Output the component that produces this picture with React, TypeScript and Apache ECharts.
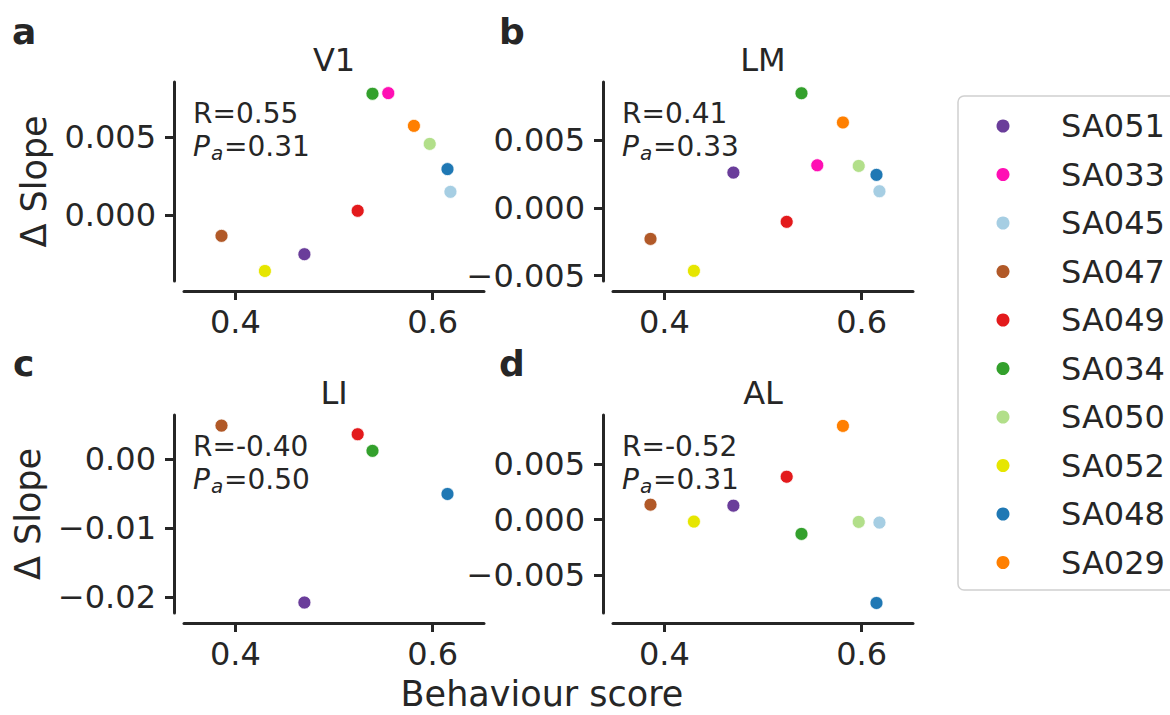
import React, { useEffect, useRef } from 'react';
import * as echarts from 'echarts';

// Mice, in legend order, with their colours and behaviour scores
const mice = ['SA051', 'SA033', 'SA045', 'SA047', 'SA049', 'SA034', 'SA050', 'SA052', 'SA048', 'SA029'];
const mouseColors = ['#6a3d9a', '#ff0fb4', '#a6cee3', '#b15928', '#e31a1c', '#33a02c', '#b2df8a', '#e6e600', '#1f78b4', '#ff7f00'];
const behaviourScore = [0.470, 0.555, 0.618, 0.386, 0.524, 0.539, 0.597, 0.430, 0.615, 0.581];

// Change in slope per area (null where a mouse has no recording in that area)
const slopeV1 = [-0.00249, 0.00779, 0.00149, -0.00132, 0.00028, 0.00775, 0.00455, -0.00356, 0.00294, 0.0057];
const slopeLM = [0.00261, 0.00315, 0.00123, -0.00229, -0.00103, 0.00847, 0.0031, -0.00465, 0.00244, 0.00631];
const slopeLI = [-0.02078, null, null, 0.00486, 0.00361, 0.0012, null, null, -0.00505, null];
const slopeAL = [0.00125, null, -0.00027, 0.00134, 0.00385, -0.00129, -0.00021, -0.00018, -0.0075, 0.00842];

const areas = ['V1', 'LM', 'LI', 'AL'];
const panelLetters = ['a', 'b', 'c', 'd'];
const rValues = ['0.55', '0.41', '-0.40', '-0.52'];
const pValues = ['0.31', '0.33', '0.50', '0.31'];

// Axis extents and ticks
const xRange = [0.348, 0.652];
const xTicks = [0.4, 0.6];
const yRanges = [
  [-0.0042, 0.0085],
  [-0.0054, 0.0093],
  [-0.0223, 0.0064],
  [-0.0084, 0.0094],
];
const yTicks = [
  [0, 0.005],
  [-0.005, 0, 0.005],
  [-0.02, -0.01, 0],
  [-0.005, 0, 0.005],
];
const yDecimals = [3, 3, 2, 3];

const FONT = '"DejaVu Sans", sans-serif';
const INK = '#262626';

const gridBoxes = [
  { left: 184, top: 82, width: 300, height: 199 },
  { left: 613, top: 82, width: 300, height: 199 },
  { left: 184, top: 415, width: 300, height: 198 },
  { left: 613, top: 415, width: 300, height: 198 },
];
const letterPos = [
  { x: 12, y: 31 },
  { x: 499, y: 31 },
  { x: 13, y: 363 },
  { x: 499, y: 363 },
];

// Legend box geometry
const legendBox = { x: 958, y: 96, width: 240, height: 494 };
const legendFirstRow = 126;
const legendRowStep = 48.5;
const legendMarkerX = 1003;
const legendTextX = 1061;

const slopesByArea = [slopeV1, slopeLM, slopeLI, slopeAL];

function fmtTick(v: number, d: number) {
  if (Math.abs(v) < 1e-12) return (0).toFixed(d);
  return (v < 0 ? '\u2212' : '') + Math.abs(v).toFixed(d);
}

function buildOption() {
  const axisLine = { show: true, onZero: false, lineStyle: { color: INK, width: 3 } };
  const axisTickBase = { show: true, length: 9, lineStyle: { color: INK, width: 3 } };

  const grid = gridBoxes.map((g) => ({ ...g }));

  const xAxis = gridBoxes.map((_, i) => ({
    type: 'value',
    gridIndex: i,
    min: xRange[0],
    max: xRange[1],
    offset: 10,
    axisLine,
    axisTick: { ...axisTickBase, customValues: xTicks },
    axisLabel: {
      customValues: xTicks,
      margin: 15,
      fontFamily: FONT,
      fontSize: 32,
      color: INK,
      formatter: (v: number) => v.toFixed(1),
    },
    splitLine: { show: false },
  }));

  const yAxis = gridBoxes.map((_, i) => ({
    type: 'value',
    gridIndex: i,
    min: yRanges[i][0],
    max: yRanges[i][1],
    offset: 10,
    axisLine,
    axisTick: { ...axisTickBase, customValues: yTicks[i] },
    axisLabel: {
      customValues: yTicks[i],
      margin: 18,
      fontFamily: FONT,
      fontSize: 32,
      color: INK,
      formatter: (v: number) => fmtTick(v, yDecimals[i]),
    },
    splitLine: { show: false },
  }));

  const series: any[] = [];
  slopesByArea.forEach((vals, p) => {
    mice.forEach((m, i) => {
      const v = vals[i];
      if (v === null || v === undefined) return;
      series.push({
        type: 'scatter',
        name: m,
        xAxisIndex: p,
        yAxisIndex: p,
        symbol: 'circle',
        symbolSize: 13,
        itemStyle: { color: mouseColors[i], borderColor: '#ffffff', borderWidth: 0.8, opacity: 1 },
        data: [[behaviourScore[i], v]],
      });
    });
  });

  const graphic: any[] = [];
  gridBoxes.forEach((g, p) => {
    // panel letter
    graphic.push({
      type: 'text',
      x: letterPos[p].x,
      y: letterPos[p].y,
      style: { text: panelLetters[p], font: `bold 36px ${FONT}`, fill: INK, align: 'left', verticalAlign: 'middle' },
    });
    // area title
    graphic.push({
      type: 'text',
      x: g.left + g.width / 2,
      y: g.top - 22,
      style: { text: areas[p], font: `32px ${FONT}`, fill: INK, align: 'center', verticalAlign: 'middle' },
    });
    // correlation annotation
    const rY = g.top + 31;
    const pY = g.top + 64;
    graphic.push({
      type: 'text',
      x: g.left + 9,
      y: rY,
      style: { text: `R=${rValues[p]}`, font: `28px ${FONT}`, fill: INK, align: 'left', verticalAlign: 'middle' },
    });
    graphic.push({
      type: 'text',
      x: g.left + 9,
      y: pY,
      style: { text: 'P', font: `italic 28px ${FONT}`, fill: INK, align: 'left', verticalAlign: 'middle' },
    });
    graphic.push({
      type: 'text',
      x: g.left + 27,
      y: pY + 6.5,
      style: { text: 'a', font: `italic 20px ${FONT}`, fill: INK, align: 'left', verticalAlign: 'middle' },
    });
    graphic.push({
      type: 'text',
      x: g.left + 40,
      y: pY,
      style: { text: `=${pValues[p]}`, font: `28px ${FONT}`, fill: INK, align: 'left', verticalAlign: 'middle' },
    });
  });

  // shared axis titles
  graphic.push({
    type: 'text',
    x: 34,
    y: gridBoxes[0].top + gridBoxes[0].height / 2,
    rotation: Math.PI / 2,
    style: { text: '\u0394 Slope', font: `35px ${FONT}`, fill: INK, align: 'center', verticalAlign: 'middle' },
  });
  graphic.push({
    type: 'text',
    x: 28,
    y: gridBoxes[2].top + gridBoxes[2].height / 2,
    rotation: Math.PI / 2,
    style: { text: '\u0394 Slope', font: `35px ${FONT}`, fill: INK, align: 'center', verticalAlign: 'middle' },
  });
  graphic.push({
    type: 'text',
    x: 542,
    y: 694,
    style: {
      text: 'Behaviour score',
      font: `35px ${FONT}`,
      lineHeight: 30,
      fill: INK,
      align: 'center',
      verticalAlign: 'middle',
    },
  });

  // legend: frame, markers and mouse names
  graphic.push({
    type: 'rect',
    shape: { x: legendBox.x, y: legendBox.y, width: legendBox.width, height: legendBox.height, r: 6 },
    style: { fill: '#ffffff', stroke: '#d0d0d0', lineWidth: 1.5 },
    z: 0,
  });
  mice.forEach((m, i) => {
    const cy = legendFirstRow + i * legendRowStep;
    graphic.push({
      type: 'circle',
      shape: { cx: legendMarkerX, cy, r: 6.5 },
      style: { fill: mouseColors[i] },
      z: 1,
    });
    graphic.push({
      type: 'text',
      x: legendTextX,
      y: cy,
      style: { text: m, font: `32px ${FONT}`, fill: INK, align: 'left', verticalAlign: 'middle' },
      z: 1,
    });
  });

  return {
    animation: false,
    backgroundColor: '#ffffff',
    textStyle: { fontFamily: FONT },
    grid,
    xAxis,
    yAxis,
    series,
    graphic,
  };
}

export default function App() {
  const ref = useRef<HTMLDivElement>(null);
  useEffect(() => {
    if (!ref.current) return;
    const chart = echarts.init(ref.current, null, { renderer: 'svg' });
    chart.setOption(buildOption() as any);
    return () => chart.dispose();
  }, []);
  return (
    <div
      ref={ref}
      style={{ position: 'fixed', left: 0, top: 0, width: 1170, height: 715, background: '#ffffff' }}
    />
  );
}
